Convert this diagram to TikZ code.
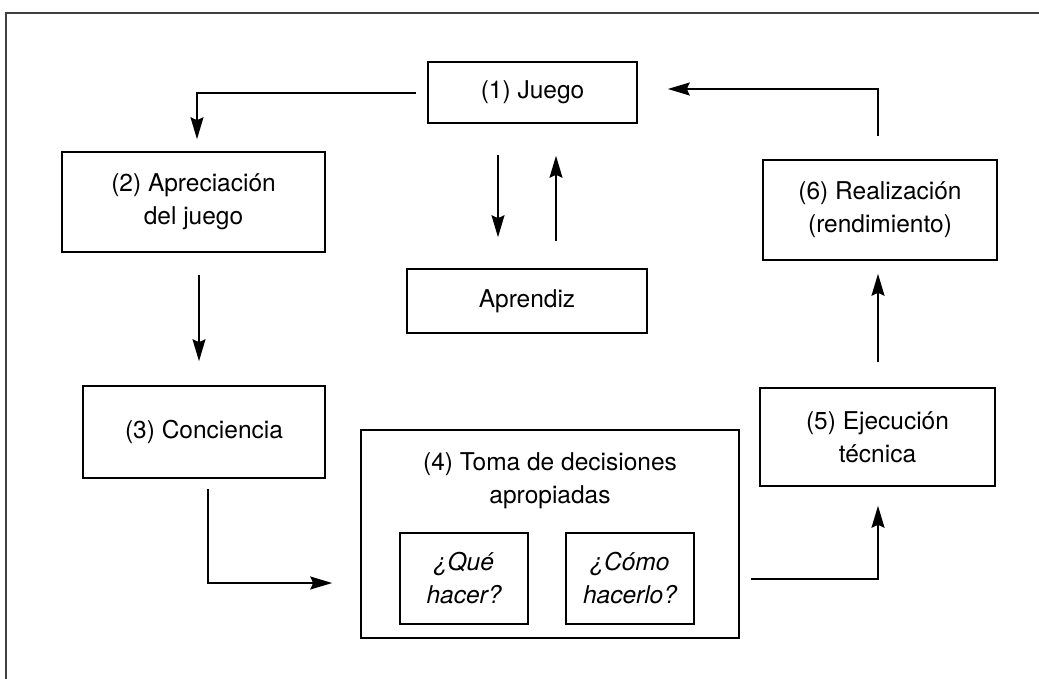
\documentclass[tikz,border=0pt]{standalone}
\usepackage{fontspec}
\setmainfont{TeX Gyre Heros}
\usetikzlibrary{arrows.meta,calc}
\begin{document}
\begin{tikzpicture}[x=1pt,y=-1pt,
  box/.style={draw=black,line width=1.6pt,rectangle,inner sep=0pt,align=center,
    font=\fontsize{24.5}{33}\selectfont},
  lbl/.style={inner sep=0pt,align=center,font=\fontsize{24.5}{33}\selectfont},
  arr/.style={draw=black,line width=1.6pt,-{Stealth[length=22pt,width=13pt,inset=3pt]}},
  frame/.style={draw=black!75,line width=2pt}]
\useasboundingbox (0,0) rectangle (1039,679);
\draw[frame] (6,679) -- (6,13) -- (1039,13);
% nodes
\node[box,minimum width=209pt,minimum height=61pt] (juego) at (532.5,92.5) {(1) Juego};
\node[box,minimum width=263pt,minimum height=100pt] (apre) at (193.5,202) {(2) Apreciación\\del juego};
\node[box,minimum width=240pt,minimum height=64pt] (aprendiz) at (527,301) {Aprendiz};
\node[box,minimum width=242pt,minimum height=92pt] (conc) at (204,432) {(3) Conciencia};
\node[box,minimum width=378pt,minimum height=208pt] (toma) at (550,534) {};
\node[lbl] (tomat) at (550,481) {(4) Toma de decisiones\\apropiadas};
\node[box,minimum width=128pt,minimum height=91pt] (que) at (464,578.5) {\itshape ¿Qué\\\itshape hacer?};
\node[box,minimum width=128pt,minimum height=91pt] (como) at (630,578.5) {\itshape ¿Cómo\\\itshape hacerlo?};
\node[box,minimum width=235pt,minimum height=98pt] (ejec) at (877.5,437) {(5) Ejecución\\técnica};
\node[box,minimum width=234pt,minimum height=100pt] (real) at (880,210) {(6) Realización\\(rendimiento)};
% connectors
\draw[arr] ($(juego.west)+(-11,0.5)$) -| ($(apre.north)+(3.5,-12)$);
\draw[arr] ($(apre.south)+(5.5,22)$) -- ($(conc.north)+(-5,-24)$);
\draw[arr] ($(conc.south)+(4,10)$) |- ($(toma.west)+(-28,49)$);
\draw[arr] ($(toma.east)+(11,45)$) -| ($(ejec.south)+(0.5,19)$);
\draw[arr] ($(ejec.north)+(0.5,-25)$) -- ($(real.south)+(-2,13)$);
\draw[arr] ($(real.north)+(-2,-23)$) |- ($(juego.east)+(30,-3.5)$);
\draw[arr] ($(juego.south)+(-34.5,31)$) -- ($(aprendiz.north)+(-29,-31)$);
\draw[arr] ($(aprendiz.north)+(29,-27)$) -- ($(juego.south)+(23.5,32)$);
\end{tikzpicture}
\end{document}
